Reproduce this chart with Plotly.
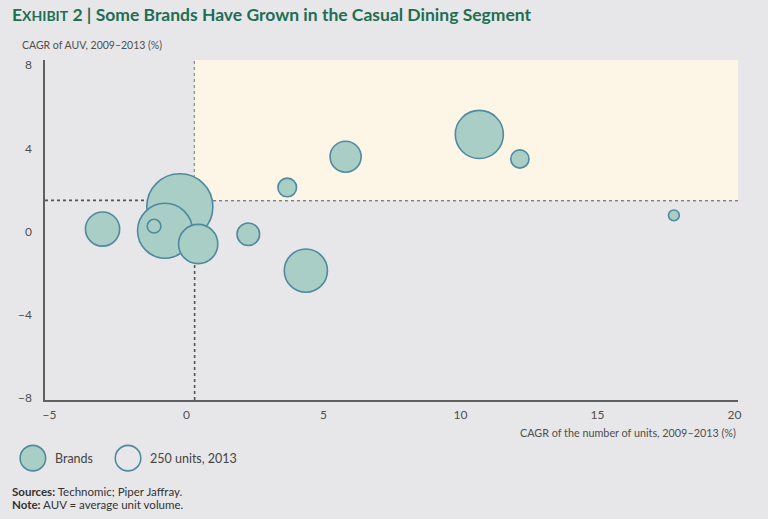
import plotly.graph_objects as go
import math

# Data: CAGR of number of units (x), CAGR of AUV (y), units in 2013 (bubble area)
unit_growth = [-3.06, -0.24, -0.78, -1.18, 0.43, 2.26, 3.68, 4.36, 5.81, 10.69, 12.17, 17.79]
auv_growth = [0.12, 1.19, 0.04, 0.26, -0.60, -0.13, 2.12, -1.88, 3.60, 4.67, 3.49, 0.78]
units_2013 = [450, 1680, 1160, 72, 592, 196, 134, 716, 370, 888, 128, 45]

x_threshold = 0.3
y_threshold = 1.5
ref_units = 250
ref_diameter = 25.5

x_ticks = [-5, 0, 5, 10, 15, 20]
y_ticks = [-8, -4, 0, 4, 8]

FILL = "#a9cec5"
EDGE = "#4f8aa0"
BG = "#e7e7e9"
TXT = "#4f4f4f"
FONT = "Lato"

sizes = [ref_diameter * math.sqrt(u / ref_units) for u in units_2013]

fig = go.Figure()
fig.add_trace(go.Scatter(
    x=unit_growth, y=auv_growth, mode="markers",
    marker=dict(size=sizes, sizemode="diameter", color=FILL, opacity=1,
                line=dict(color=EDGE, width=1.6)),
    showlegend=False, hoverinfo="x+y",
))

DASH = "3px,3px"
shapes = [
    dict(type="rect", xref="x", yref="y", x0=x_threshold, x1=20.13, y0=y_threshold, y1=8.25,
         fillcolor="#fdf6e6", line=dict(width=0), layer="below"),
    dict(type="line", xref="x", yref="paper", x0=x_threshold, x1=x_threshold, y0=0, y1=1,
         line=dict(color="#555555", width=1.6, dash=DASH), layer="below"),
    dict(type="line", xref="paper", yref="y", x0=0, x1=1, y0=y_threshold, y1=y_threshold,
         line=dict(color="#555555", width=1.6, dash=DASH), layer="below"),
    # legend bubbles
    dict(type="circle", xref="paper", yref="paper", xsizemode="pixel", ysizemode="pixel",
         xanchor=-0.0175, yanchor=-0.171, x0=-ref_diameter/2, x1=ref_diameter/2,
         y0=-ref_diameter/2, y1=ref_diameter/2, fillcolor=FILL, line=dict(color=EDGE, width=1.6)),
    dict(type="circle", xref="paper", yref="paper", xsizemode="pixel", ysizemode="pixel",
         xanchor=0.1198, yanchor=-0.171, x0=-ref_diameter/2, x1=ref_diameter/2,
         y0=-ref_diameter/2, y1=ref_diameter/2, fillcolor="rgba(0,0,0,0)", line=dict(color=EDGE, width=1.6)),
]

title_txt = ("<b>E<span style='font-size:14px'>XHIBIT</span> 2 | "
             "Some Brands Have Grown in the Casual Dining Segment</b>")

annotations = [
    dict(text=title_txt, xref="paper", yref="paper", x=-0.0505, y=1.134,
         xanchor="left", yanchor="middle", showarrow=False,
         font=dict(family=FONT, size=17.5, color="#1f6e54")),
    dict(text="CAGR of AUV, 2009–2013 (%)", xref="paper", yref="paper", x=-0.036, y=1.043,
         xanchor="left", yanchor="middle", showarrow=False,
         font=dict(family=FONT, size=10.5, color=TXT)),
    dict(text="CAGR of the number of units, 2009–2013 (%)", xref="paper", yref="paper", x=1.0, y=-0.097,
         xanchor="right", yanchor="middle", showarrow=False,
         font=dict(family=FONT, size=10.8, color=TXT)),
    dict(text="Brands", xref="paper", yref="paper", x=0.0115, y=-0.171,
         xanchor="left", yanchor="middle", showarrow=False,
         font=dict(family=FONT, size=12.5, color="#444444")),
    dict(text="250 units, 2013", xref="paper", yref="paper", x=0.1486, y=-0.171,
         xanchor="left", yanchor="middle", showarrow=False,
         font=dict(family=FONT, size=12.5, color="#444444")),
    dict(text="<b>Sources:</b> Technomic; Piper Jaffray.", xref="paper", yref="paper", x=-0.0505, y=-0.268,
         xanchor="left", yanchor="middle", showarrow=False,
         font=dict(family=FONT, size=11.5, color="#333333")),
    dict(text="<b>Note:</b> AUV = average unit volume.", xref="paper", yref="paper", x=-0.0505, y=-0.306,
         xanchor="left", yanchor="middle", showarrow=False,
         font=dict(family=FONT, size=11.5, color="#333333")),
]

fig.update_layout(
    width=768, height=519,
    margin=dict(l=45, r=30, t=60, b=119),
    paper_bgcolor=BG, plot_bgcolor=BG,
    shapes=shapes, annotations=annotations,
    font=dict(family=FONT, color=TXT, size=12),
    xaxis=dict(range=[-5.16, 20.13], tickvals=x_ticks,
               ticktext=[("−" + str(-t)) if t < 0 else str(t) for t in x_ticks],
               showgrid=False, zeroline=False, showline=True, linecolor="#5f5f5f", linewidth=1.5,
               ticks="", ticklabelstandoff=3,
               tickfont=dict(family=FONT, size=12, color=TXT)),
    yaxis=dict(range=[-8.1, 8.25], tickvals=y_ticks,
               ticktext=[("−" + str(-t)) if t < 0 else str(t) for t in y_ticks],
               showgrid=False, zeroline=False, showline=True, linecolor="#5f5f5f", linewidth=1.5,
               ticks="", ticklabelstandoff=9,
               tickfont=dict(family=FONT, size=12, color=TXT)),
    showlegend=False,
)

fig.write_html("out.html", config={"displayModeBar": False},
               post_script="document.body.style.margin='0';document.body.style.overflow='hidden';")
